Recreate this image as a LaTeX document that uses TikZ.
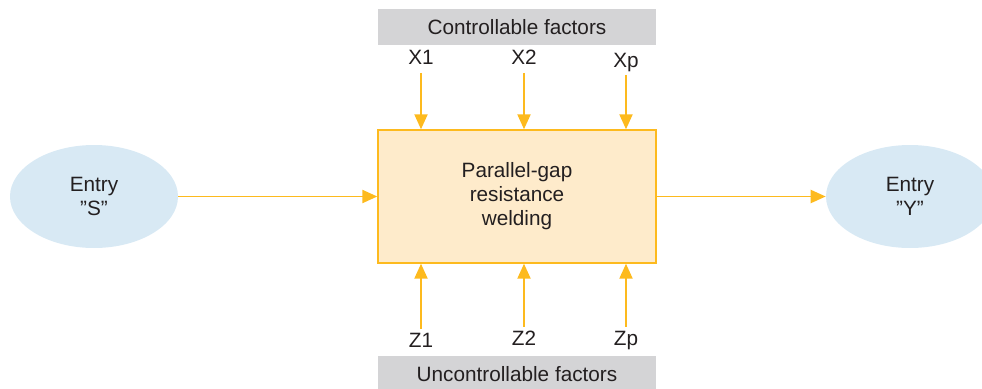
\documentclass[tikz,border=0pt]{standalone}
\usepackage{fontspec}
\setmainfont{Liberation Sans}
\usetikzlibrary{arrows.meta,shapes.geometric}
\definecolor{flowor}{HTML}{FDBA1E}
\definecolor{weldfill}{HTML}{FEEBCB}
\definecolor{entryfill}{HTML}{D8E9F4}
\definecolor{factgray}{HTML}{D4D4D6}
\definecolor{txt}{HTML}{231F20}
\begin{document}
\begin{tikzpicture}[font=\fontsize{11.8}{13.6}\selectfont, text=txt]
\tikzset{entry/.style = {shape=ellipse,fill=entryfill,inner sep=0pt,minimum width=3.36cm,minimum height=2.06cm,align=center}}
\tikzset{factors/.style = {fill=factgray,minimum width=5.56cm,minimum height=0.72cm,inner sep=0pt}}
\tikzset{var/.style = {anchor=base,inner sep=2.3pt,text height=0.8em,text depth=0.2em}}
\tikzset{flow/.style = {draw=flowor,line width=0.85pt,-{Triangle[length=8.5pt,width=7.5pt]}}}
\useasboundingbox (0,0) rectangle (19.64,7.76);
% process block in the middle
\node[draw=flowor,fill=weldfill,line width=0.85pt,minimum width=5.56cm,minimum height=2.66cm,align=center] (weld) at (10.34,3.83) {Parallel-gap\\resistance\\welding};
% entries left and right
\node[entry] (entryS) at (1.88,3.83) {Entry\\”S”};
\node[entry] (entryY) at (18.2,3.83) {Entry\\”Y”};
% factor bars
\node[factors] (ctrl) at (10.34,7.22) {Controllable factors};
\node[factors] (unctrl) at (10.34,0.28) {Uncontrollable factors};
% controllable inputs
\node[var] (x1) at (8.42,6.46) {X1};
\node[var] (x2) at (10.48,6.46) {X2};
\node[var] (xp) at (12.52,6.42) {Xp};
% uncontrollable inputs
\node[var] (z1) at (8.42,0.82) {Z1};
\node[var] (z2) at (10.48,0.86) {Z2};
\node[var] (zp) at (12.52,0.86) {Zp};
% arrows
\draw[flow] (entryS.east) -- (weld.west);
\draw[flow] (weld.east) -- (entryY.west);
\draw[flow] (x1.south) -- (x1.south |- weld.north);
\draw[flow] (x2.south) -- (x2.south |- weld.north);
\draw[flow] (xp.south) -- (xp.south |- weld.north);
\draw[flow] (z1.north) -- (z1.north |- weld.south);
\draw[flow] (z2.north) -- (z2.north |- weld.south);
\draw[flow] (zp.north) -- (zp.north |- weld.south);
\end{tikzpicture}
\end{document}
